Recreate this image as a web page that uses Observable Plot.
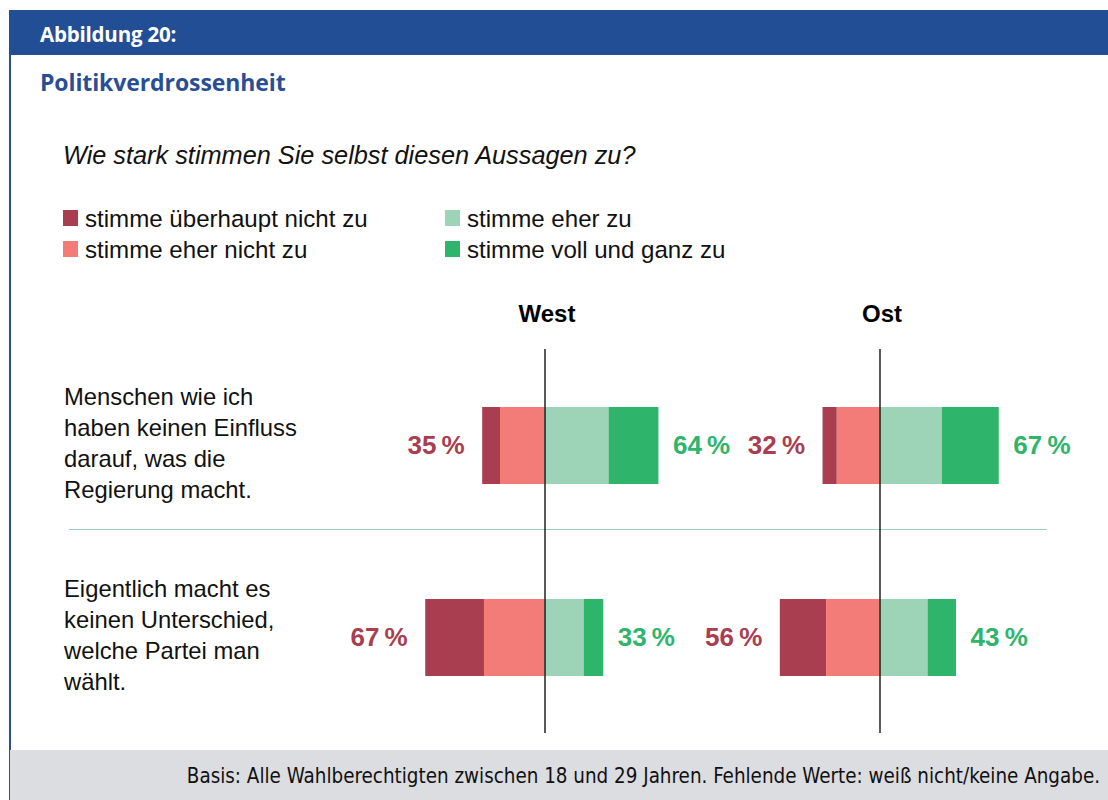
<!DOCTYPE html>
<html>
<head>
<meta charset="utf-8">
<script src="https://cdn.jsdelivr.net/npm/d3@7"></script>
<script src="https://cdn.jsdelivr.net/npm/@observablehq/plot@0.6"></script>
<style>
  html, body { margin: 0; padding: 0; background: #fff; }
  #page { position: relative; width: 1108px; height: 800px; overflow: hidden; font-family: "Liberation Sans", Arial, sans-serif; }
  #leftline { position: absolute; left: 9px; top: 10px; width: 1.5px; height: 790px; background: #2a4f96; }
  #header { position: absolute; left: 9px; top: 10px; width: 1099px; height: 45px; background: #224e96; }
  #header span { position: absolute; left: 31px; top: 10px; color: #fff; font-family: "Open Sans", sans-serif; font-weight: 700; font-size: 20.5px; letter-spacing: -0.2px; }
  #title { position: absolute; left: 40px; top: 66px; color: #2a4e96; font-family: "Open Sans", sans-serif; font-weight: 700; font-size: 23px; letter-spacing: -0.1px; }
  #question { position: absolute; left: 63px; top: 141px; font-style: italic; font-size: 25.3px; color: #111; }
  .leg { position: absolute; font-size: 24.1px; color: #111; white-space: nowrap; }
  .leg i { position: absolute; left: 0; top: 5px; width: 15px; height: 16px; }
  .leg span { position: absolute; left: 22px; top: 0; }
  #sep { position: absolute; left: 69px; top: 529px; width: 978px; height: 1px; background: #9ccfb6; }
  #footer { position: absolute; left: 10px; top: 750px; width: 1098px; height: 50px; background: #dcdde0; }
  #footer span { position: absolute; right: 8px; top: 14px; font-family: "Liberation Sans Narrow", "DejaVu Sans Condensed", "Open Sans", sans-serif; font-size: 20.4px; color: #111; white-space: nowrap; }
  #chart { position: absolute; left: 0; top: 290px; }
</style>
</head>
<body>
<div id="page">
  <div id="leftline"></div>
  <div id="header"><span>Abbildung 20:</span></div>
  <div id="title">Politikverdrossenheit</div>
  <div id="question">Wie stark stimmen Sie selbst diesen Aussagen zu?</div>
  <div id="legend"></div>
  <div id="sep"></div>
  <div id="chart"></div>
  <div id="footer"><span>Basis: Alle Wahlberechtigten zwischen 18 und 29 Jahren. Fehlende Werte: weiß nicht/keine Angabe.</span></div>
</div>
<script>
// ---- data ----
const categories = ["stimme überhaupt nicht zu", "stimme eher nicht zu", "stimme eher zu", "stimme voll und ganz zu"];
const colors = ["#a83e50", "#f37b78", "#9dd4b8", "#2eb56b"];
const regions = ["West", "Ost"];
const questions = [
  "Menschen wie ich\nhaben keinen Einfluss\ndarauf, was die\nRegierung macht.",
  "Eigentlich macht es\nkeinen Unterschied,\nwelche Partei man\nwählt."
];
const westValues = [[10, 25, 36, 28], [33, 34, 22, 11]];
const ostValues  = [[8, 24, 35, 32], [26, 30, 27, 16]];
const negColor = "#a83e50";
const posColor = "#2eb56b";

// ---- legend (HTML, column-major 2x2) ----
const legend = document.getElementById("legend");
const legPos = [[63, 205], [63, 236], [445, 205], [445, 236]];
categories.forEach((c, i) => {
  const d = document.createElement("div");
  d.className = "leg";
  d.style.left = legPos[i][0] + "px";
  d.style.top = legPos[i][1] + "px";
  d.innerHTML = `<i style="background:${colors[i]}"></i><span>${c}</span>`;
  legend.appendChild(d);
});

// ---- build diverging segments ----
const valuesByRegion = {West: westValues, Ost: ostValues};
const segments = [];
const totals = [];
for (const region of regions) {
  questions.forEach((question, qi) => {
    const v = valuesByRegion[region][qi];
    const bounds = [[-(v[0] + v[1]), -v[1]], [-v[1], 0], [0, v[2]], [v[2], v[2] + v[3]]];
    categories.forEach((category, ci) => {
      segments.push({region, question, category, x1: bounds[ci][0], x2: bounds[ci][1]});
    });
    totals.push({region, question, neg: v[0] + v[1], pos: v[2] + v[3]});
  });
}

const chart = Plot.plot({
  width: 1108,
  height: 450,
  marginTop: 59,
  marginBottom: 7,
  marginLeft: 410.5,
  marginRight: 95.5,
  style: {fontFamily: "'Liberation Sans', Arial, sans-serif", color: "#111", background: "transparent"},
  x: {domain: [-75, 75], axis: null},
  y: {domain: questions, paddingInner: 0.6, paddingOuter: 0.3},
  fx: {domain: regions, paddingInner: 0.203, paddingOuter: 0, label: null},
  color: {domain: categories, range: colors},
  marks: [
    Plot.axisFx({anchor: "top", tickSize: 0, tickPadding: 0, fontSize: 24, fontWeight: "bold", label: null, dy: -28, dx: 2, fill: "#000"}),
    Plot.axisY({anchor: "left", tickSize: 0, tickPadding: 0, textAnchor: "start", dx: -347.5, dy: -4.5, fontSize: 23.8, lineHeight: 1.3, label: null, fill: "#111"}),
    Plot.barX(segments, {fx: "region", y: "question", x1: "x1", x2: "x2", fill: "category"}),
    Plot.ruleX([0], {stroke: "#000", strokeWidth: 1.3}),
    Plot.text(totals, {fx: "region", y: "question", x: d => -d.neg, text: d => d.neg + "\u2009%", textAnchor: "end", dx: -18, fill: negColor, fontSize: 26, fontWeight: "bold"}),
    Plot.text(totals, {fx: "region", y: "question", x: d => d.pos, text: d => d.pos + "\u2009%", textAnchor: "start", dx: 14, fill: posColor, fontSize: 26, fontWeight: "bold"})
  ]
});
document.getElementById("chart").appendChild(chart);
</script>
</body>
</html>
